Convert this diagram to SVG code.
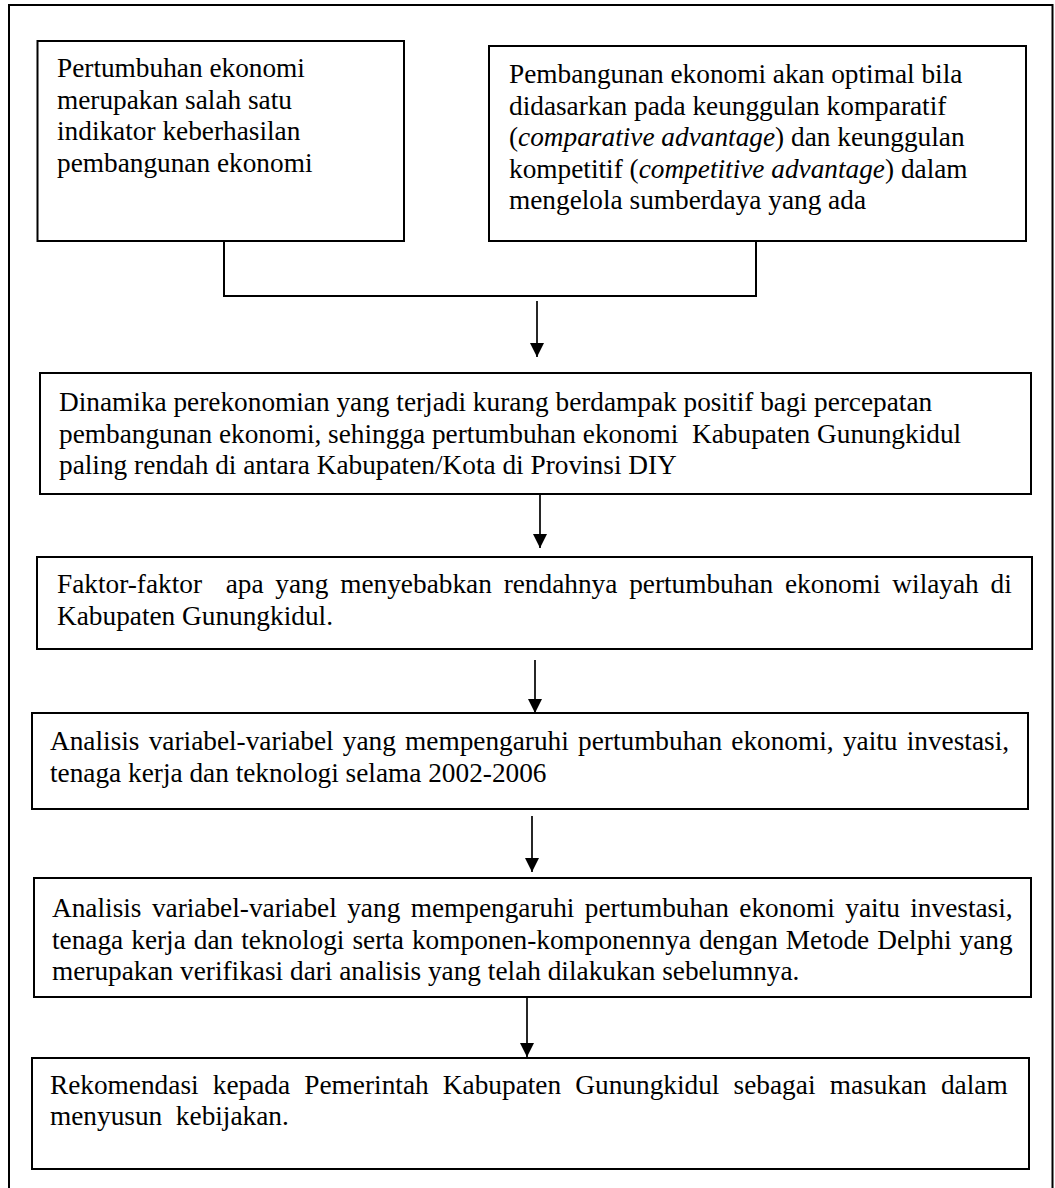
<svg xmlns="http://www.w3.org/2000/svg" width="1055" height="1188" viewBox="0 0 1055 1188">
<defs>
<marker id="ah" markerUnits="userSpaceOnUse" markerWidth="14" markerHeight="15" refX="14" refY="7" orient="auto">
<path d="M0,0 L14,7 L0,14 z" fill="#000"/>
</marker>
<style>
.box{fill:#fff;stroke:#000;stroke-width:2}
.frame{fill:none;stroke:#000;stroke-width:2}
.t{font-family:"Liberation Serif","Times New Roman",serif;font-size:27.3px;fill:#000}
.it{font-style:italic}
.ln{fill:none;stroke:#000;stroke-width:2}
.ar{fill:none;stroke:#000;stroke-width:1.7;marker-end:url(#ah)}
</style>
</defs>
<rect x="0" y="0" width="1055" height="1188" fill="#fff"/>
<path class="frame" d="M9,1188 V5 H1052.5 V1188"/>

<g id="node-pertumbuhan">
<rect class="box" x="37.5" y="41" width="366.5" height="200"/>
<text class="t" x="57" y="77">Pertumbuhan ekonomi</text>
<text class="t" x="57" y="108.5">merupakan salah satu</text>
<text class="t" x="57" y="140">indikator keberhasilan</text>
<text class="t" x="57" y="171.5">pembangunan ekonomi</text>
</g>

<g id="node-pembangunan">
<rect class="box" x="489" y="46" width="537" height="195"/>
<text class="t" x="509" y="83">Pembangunan ekonomi akan optimal bila</text>
<text class="t" x="509" y="114.5">didasarkan pada keunggulan komparatif</text>
<text class="t" x="509" y="146">(<tspan class="it">comparative advantage</tspan>) dan keunggulan</text>
<text class="t" x="509" y="177.5">kompetitif (<tspan class="it">competitive advantage</tspan>) dalam</text>
<text class="t" x="509" y="209">mengelola sumberdaya yang ada</text>
</g>

<g id="node-dinamika">
<rect class="box" x="40" y="373" width="991" height="121"/>
<text class="t" x="59" y="411" xml:space="preserve">Dinamika perekonomian yang terjadi kurang berdampak positif bagi percepatan</text>
<text class="t" x="59" y="442.5" xml:space="preserve">pembangunan ekonomi, sehingga pertumbuhan ekonomi  Kabupaten Gunungkidul</text>
<text class="t" x="59" y="474" xml:space="preserve">paling rendah di antara Kabupaten/Kota di Provinsi DIY</text>
</g>

<g id="node-faktor">
<rect class="box" x="37" y="557" width="995" height="92"/>
<text class="t" x="57" y="593" xml:space="preserve" word-spacing="5">Faktor-faktor  apa yang menyebabkan rendahnya pertumbuhan ekonomi wilayah di</text>
<text class="t" x="57" y="625" xml:space="preserve">Kabupaten Gunungkidul.</text>
</g>

<g id="node-analisis1">
<rect class="box" x="32" y="713" width="996" height="96"/>
<text class="t" x="50" y="750" xml:space="preserve" word-spacing="2.4">Analisis variabel-variabel yang mempengaruhi pertumbuhan ekonomi, yaitu investasi,</text>
<text class="t" x="50" y="782" xml:space="preserve">tenaga kerja dan teknologi selama 2002-2006</text>
</g>

<g id="node-analisis2">
<rect class="box" x="34" y="878" width="997" height="119"/>
<text class="t" x="52" y="917" xml:space="preserve" word-spacing="3.6">Analisis variabel-variabel yang mempengaruhi pertumbuhan ekonomi yaitu investasi,</text>
<text class="t" x="52" y="948.5" xml:space="preserve" word-spacing="1.2">tenaga kerja dan teknologi serta komponen-komponennya dengan Metode Delphi yang</text>
<text class="t" x="52" y="980" xml:space="preserve">merupakan verifikasi dari analisis yang telah dilakukan sebelumnya.</text>
</g>

<g id="node-rekomendasi">
<rect class="box" x="32" y="1058" width="997" height="111"/>
<text class="t" x="50" y="1094" xml:space="preserve" word-spacing="7.4">Rekomendasi kepada Pemerintah Kabupaten Gunungkidul sebagai masukan dalam</text>
<text class="t" x="50" y="1125" xml:space="preserve">menyusun  kebijakan.</text>
</g>

<g id="connectors">
<path class="ln" d="M224,241 V296 H756 V241"/>
<line class="ar" x1="537" y1="301" x2="537" y2="357"/>
<line class="ar" x1="540" y1="495" x2="540" y2="548"/>
<line class="ar" x1="535" y1="660" x2="535" y2="713"/>
<line class="ar" x1="532" y1="816" x2="532" y2="872"/>
<line class="ar" x1="527" y1="997" x2="527" y2="1057"/>
</g>
</svg>
